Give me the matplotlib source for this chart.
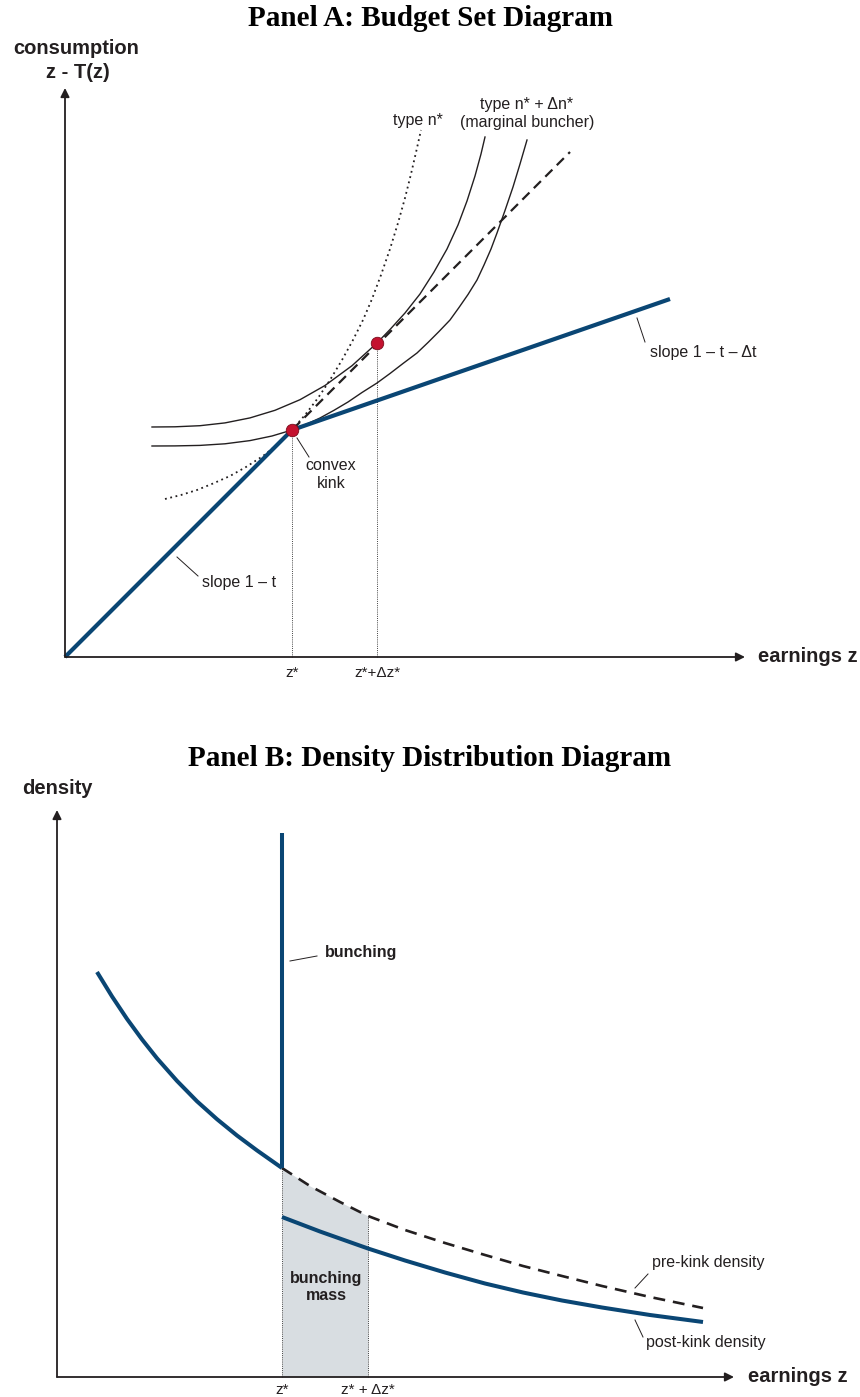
import matplotlib.pyplot as plt

# ---------------- Panel A data (origin of the diagram = (0, 0)) ----------------
kink_a = (227, 227)
budget_x = [0, 227, 605]
budget_y = [0, 227, 358]
dashed_x = [205, 505]
dashed_y = [205, 505]
buncher_pt = (312, 314)

# type n* + dn*, before the kink (tangent at z* + dz*)
upper_x = [87, 110, 135, 160, 185, 210, 235, 260, 287, 312, 325, 340, 355, 369, 382, 393, 402, 410, 416, 420]
upper_y = [230, 230.2, 231.3, 234.1, 239.1, 246.7, 257.3, 271.5, 291.3, 314, 327.5, 344, 363, 385, 408, 432, 456, 481, 503, 520]
# type n* + dn*, after the kink (through the kink)
lower_x = [87, 110, 135, 160, 185, 207, 227, 241, 255, 269, 283, 297, 312, 325, 338, 352, 363, 374,
           385, 394, 403, 412, 419, 426, 432, 440, 448, 455, 462]
lower_y = [211, 211.1, 211.6, 213.2, 216.4, 221, 227, 232.6, 239, 246.7, 255, 264.5, 274, 283.5, 293.5, 304,
           314.5, 325.5, 337, 349.5, 362.5, 377, 392, 408, 424, 446.5, 470, 493, 517]
# type n* (dotted)
ntype_x = [100, 116, 132, 148, 165, 181, 198, 213, 227, 240, 253, 265, 277, 288, 298, 307, 316, 325,
           333, 340, 346, 352, 356]
ntype_y = [158, 162, 167, 173.5, 181, 190, 201, 213, 227, 242, 259, 277, 297, 317, 337, 358, 382, 408,
           434, 459, 483, 509, 527]

ticks_a = [227, 312]
ticklabels_a = ['z*', 'z*+\u0394z*']

# ---------------- Panel B data ----------------
z_star = 225
z_star_dz = 311
bunch_top = 544
left_x = [40, 55, 70, 85, 100, 120, 140, 160, 180, 200, 225]
left_y = [405, 380.6, 358.1, 337.6, 318.7, 296.1, 275.7, 257.8, 241.5, 226.6, 209]
pre_x = [225, 253, 283, 311, 348, 388, 428, 466, 505, 545, 593, 646]
pre_y = [209, 191, 175, 161, 147, 134, 122, 111, 101, 91, 80, 69]
post_x = [225, 263, 311, 348, 388, 428, 466, 505, 545, 593, 646]
post_y = [160, 145.5, 128.5, 116.5, 104.5, 93.5, 84.5, 76.5, 69.5, 62, 55]

ticks_b = [225, 311]
ticklabels_b = ['z*', 'z* + \u0394z*']

BLUE = '#0a4674'
RED = '#c4122f'
INK = '#231f20'
SANS = ['Liberation Sans', 'DejaVu Sans']
SERIF = ['Liberation Serif', 'DejaVu Serif']
AXIS_FS = 14.5
LABEL_FS = 11.5
TICK_FS = 11

W, H = 860, 1397
fig = plt.figure(figsize=(W / 100, H / 100), dpi=100)

def arrow(ax, start, end):
    ax.annotate('', xy=end, xytext=start,
                arrowprops=dict(arrowstyle='-|>', lw=1.3, color=INK,
                                mutation_scale=13, shrinkA=0, shrinkB=0))

def leader(ax, p, q):
    ax.plot([p[0], q[0]], [p[1], q[1]], color=INK, lw=0.7)

def label(ax, x, y, s, ha='center', bold=False, fs=LABEL_FS):
    ax.text(x, y, s, ha=ha, va='center', fontsize=fs, family=SANS, color=INK,
            fontweight='bold' if bold else 'normal')

# ===== Panel A =====
axA = fig.add_axes([0, (H - 700) / H, 1, 700 / H])
axA.set_xlim(-65, W - 65)
axA.set_ylim(-43, 657)
axA.axis('off')

arrow(axA, (0, 0), (0, 569))
arrow(axA, (0, 0), (680, 0))

for t in ticks_a:
    top = kink_a[1] if t == kink_a[0] else buncher_pt[1]
    axA.plot([t, t], [0, top], color='#444444', lw=0.7, ls=(0, (1, 1.2)))

axA.plot(ntype_x, ntype_y, color=INK, lw=1.3, ls=(0, (1, 2)))
axA.plot(upper_x, upper_y, color=INK, lw=1.0)
axA.plot(lower_x, lower_y, color=INK, lw=1.0)
axA.plot(dashed_x, dashed_y, color=INK, lw=1.6, ls=(0, (4.5, 2.8)))
axA.plot(budget_x, budget_y, color=BLUE, lw=3.0, solid_capstyle='butt')
axA.plot([kink_a[0], buncher_pt[0]], [kink_a[1], buncher_pt[1]], ls='none',
         marker='o', ms=9, mfc=RED, mec='#7a0c1c', mew=0.6)

for t, lab in zip(ticks_a, ticklabels_a):
    label(axA, t, -16, lab, fs=TICK_FS)

label(axA, 11, 609, 'consumption', bold=True, fs=AXIS_FS)
label(axA, 13, 584, 'z - T(z)', bold=True, fs=AXIS_FS)
label(axA, 693, 0, 'earnings z', ha='left', bold=True, fs=AXIS_FS)

label(axA, 353, 536, 'type n*')
label(axA, 462, 552, 'type n* + \u0394n*')
label(axA, 462, 534, '(marginal buncher)')
label(axA, 266, 192, 'convex')
label(axA, 266, 174, 'kink')
leader(axA, (232, 219), (244, 200))
label(axA, 137, 75, 'slope 1 \u2013 t', ha='left')
leader(axA, (112, 100), (133, 81))
label(axA, 585, 305, 'slope 1 \u2013 t \u2013 \u0394t', ha='left')
leader(axA, (572, 339), (580, 315))

fig.text(0.5, 1 - 18 / H, 'Panel A: Budget Set Diagram', ha='center', va='center',
         fontsize=21, fontweight='bold', family=SERIF, color='black')

# ===== Panel B =====
axB = fig.add_axes([0, 0, 1, 677 / H])
axB.set_xlim(-57, W - 57)
axB.set_ylim(-20, 657)
axB.axis('off')

fill_x = [x for x in pre_x if x <= z_star_dz]
fill_y = [y for x, y in zip(pre_x, pre_y) if x <= z_star_dz]
axB.fill_between(fill_x, 0, fill_y, color='#d8dde1', lw=0)
axB.plot([z_star, z_star], [0, pre_y[0]], color='#444444', lw=0.7, ls=(0, (1, 1.2)))
axB.plot([z_star_dz, z_star_dz], [0, fill_y[-1]], color='#444444', lw=0.7, ls=(0, (1, 1.2)))

arrow(axB, (0, 0), (0, 567))
arrow(axB, (0, 0), (677, 0))

axB.plot(pre_x, pre_y, color=INK, lw=1.9, ls=(0, (4.5, 3)))
axB.plot(post_x, post_y, color=BLUE, lw=2.9, solid_capstyle='butt')
axB.plot(left_x, left_y, color=BLUE, lw=2.9, solid_capstyle='butt')
axB.plot([z_star, z_star], [left_y[-1], bunch_top], color=BLUE, lw=2.9, solid_capstyle='butt')

for t, lab in zip(ticks_b, ticklabels_b):
    label(axB, t, -13, lab, fs=TICK_FS)

label(axB, 0, 589, 'density', bold=True, fs=AXIS_FS)
label(axB, 691, 0, 'earnings z', ha='left', bold=True, fs=AXIS_FS)

label(axB, 268, 424, 'bunching', ha='left', bold=True)
leader(axB, (233, 416), (260, 421))
label(axB, 269, 99, 'bunching', bold=True)
label(axB, 269, 81, 'mass', bold=True)
label(axB, 595, 115, 'pre-kink density', ha='left')
leader(axB, (578, 89), (591, 103))
label(axB, 589, 35, 'post-kink density', ha='left')
leader(axB, (578, 57), (586, 40))

fig.text(0.5, 1 - 758 / H, 'Panel B: Density Distribution Diagram', ha='center', va='center',
         fontsize=21, fontweight='bold', family=SERIF, color='black')

fig.savefig('out.png', dpi=100)
